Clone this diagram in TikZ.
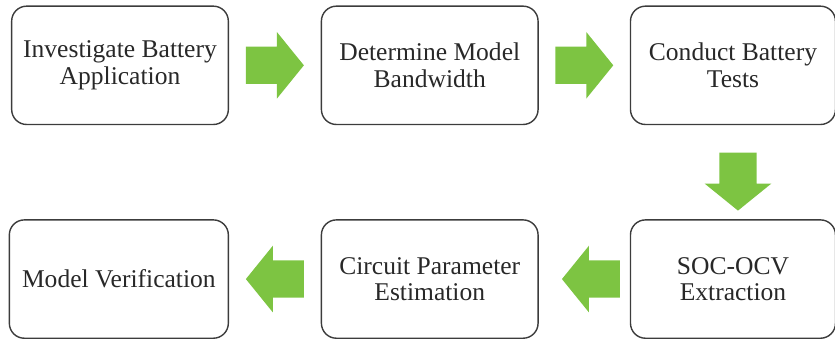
\documentclass[tikz,border=0pt]{standalone}
\usepackage{fontspec}
\setmainfont{Liberation Serif}
\usetikzlibrary{positioning,calc}
\definecolor{arrowgreen}{RGB}{125,196,66}
\definecolor{boxgray}{RGB}{60,60,60}
\definecolor{txtgray}{RGB}{40,40,40}
\begin{document}
\begin{tikzpicture}[line join=round, line cap=round,
	stage/.style={draw=boxgray, line width=1.2pt, rounded corners=0.45cm,
		minimum width=6.5cm, minimum height=3.55cm, align=center,
		text=txtgray, font=\fontsize{21.8}{22.5}\selectfont},
	barrow/.pic={\fill[arrowgreen] (-0.87,-0.56)--(0.06,-0.56)--(0.06,-1.0)--(0.87,0)
		--(0.06,1.0)--(0.06,0.56)--(-0.87,0.56)--cycle;}]
	\useasboundingbox (0,0) rectangle (25.05,10.23);
	
	% Hàng trên
	\node[stage] (invest) at (3.6,8.27) {Investigate Battery\\Application};
	\node[stage, right=2.75cm of invest] (bandw) {Determine Model\\Bandwidth};
	\node[stage, minimum width=6.15cm, right=2.73cm of bandw] (tests) {Conduct Battery\\Tests};
	
	% Hàng dưới
	\node[stage, minimum width=6.15cm, below=2.82cm of tests] (sococv) {SOC-OCV\\Extraction};
	\node[stage, left=2.73cm of sococv] (param) {Circuit Parameter\\Estimation};
	\node[stage, minimum width=6.57cm, left=2.75cm of param] (verif) {Model Verification};
	
	% Mũi tên
	\path ($(invest.east)!0.5!(bandw.west)$) pic {barrow};
	\path ($(bandw.east)!0.5!(tests.west)$) pic {barrow};
	\path ($(tests.south)!0.6!(sococv.north)+(0.15,0)$) pic[rotate=-90] {barrow};
	\path ($(sococv.west)!0.5!(param.east)+(0.2,0)$) pic[rotate=180] {barrow};
	\path ($(param.west)!0.5!(verif.east)$) pic[rotate=180] {barrow};
\end{tikzpicture}
\end{document}
